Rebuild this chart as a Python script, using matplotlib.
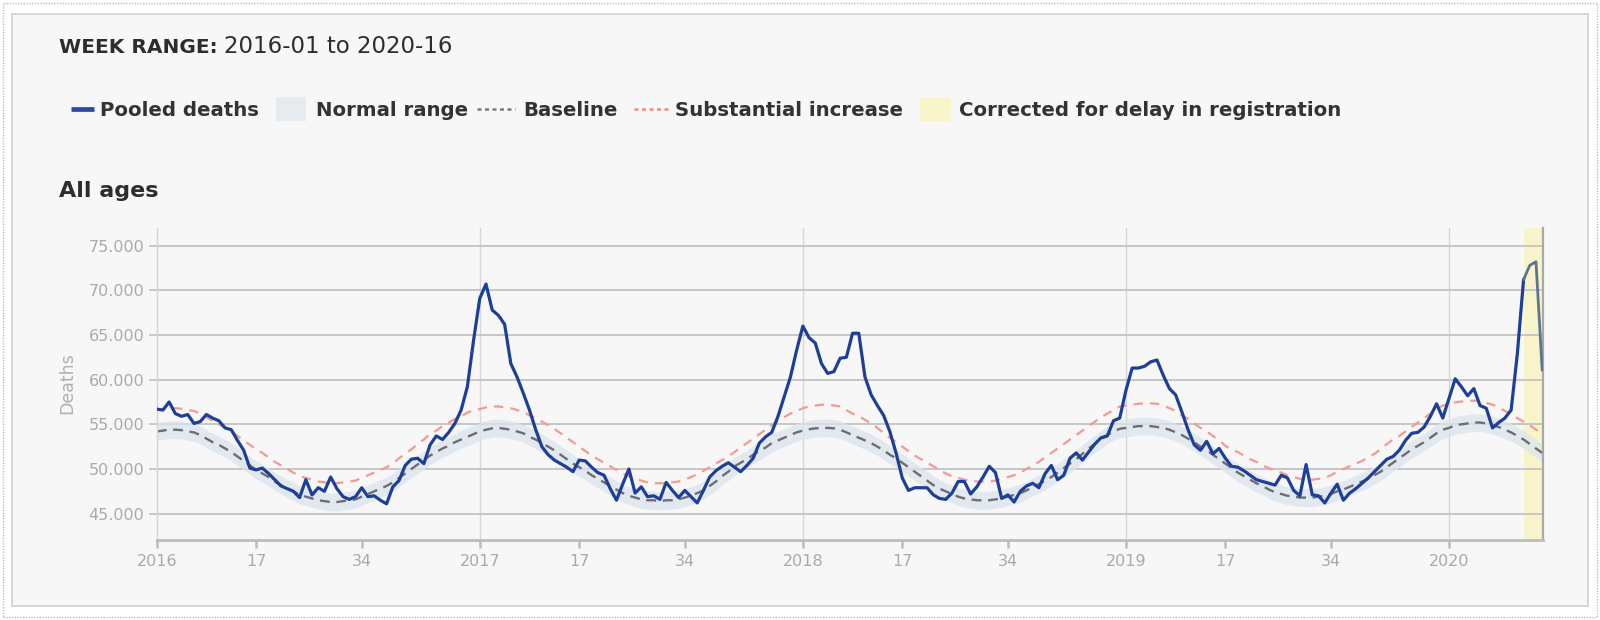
import matplotlib
matplotlib.use("Agg")
import matplotlib.pyplot as plt
from matplotlib.patches import Rectangle
from matplotlib.lines import Line2D
import numpy as np

plt.rcParams['font.family'] = ['DejaVu Sans']

# ---------------- data (thousands of deaths, weekly) ----------------
year_labels = ['2016', '2017', '2018', '2019', '2020']
weeks_per_year = [52, 52, 52, 52, 16]
tick_weeks = [1, 17, 34]
ytick_vals = [45, 50, 55, 60, 65, 70, 75]
ytick_labels = ['45.000', '50.000', '55.000', '60.000', '65.000', '70.000', '75.000']
corrected_first_index = 220  # 2020-13 onwards corrected for delay

deaths_2016 = [56.7, 56.6, 57.5, 56.2, 55.9, 56.1, 55.1, 55.3, 56.1, 55.7,
               55.4, 54.6, 54.4, 53.2, 52.1, 50.1, 49.9, 50.1, 49.5, 48.8,
               48.1, 47.8, 47.5, 46.8, 48.8, 47.1, 47.9, 47.5, 49.1, 47.8,
               46.9, 46.6, 46.9, 47.9, 46.9, 47.0, 46.5, 46.1, 48.0, 48.7,
               50.4, 51.1, 51.2, 50.6, 52.7, 53.7, 53.3, 54.1, 55.1, 56.6,
               59.2, 64.4]
deaths_2017 = [69.1, 70.7, 67.8, 67.2, 66.2, 61.8, 60.3, 58.5, 56.6, 54.4,
               52.5, 51.6, 51.0, 50.6, 50.2, 49.7, 51.0, 50.9, 50.2, 49.6,
               49.3, 47.8, 46.5, 48.3, 50.0, 47.3, 48.0, 46.9, 47.0, 46.6,
               48.5, 47.6, 46.8, 47.6, 46.9, 46.2, 47.6, 49.1, 49.8, 50.3,
               50.7, 50.2, 49.7, 50.4, 51.2, 52.9, 53.6, 54.1, 55.9, 58.1,
               60.3, 63.3]
deaths_2018 = [66.0, 64.7, 64.1, 61.8, 60.7, 60.9, 62.4, 62.5, 65.2, 65.2,
               60.3, 58.3, 57.1, 56.0, 54.2, 51.8, 49.0, 47.6, 47.9, 47.9,
               47.9, 47.1, 46.7, 46.6, 47.3, 48.6, 48.6, 47.2, 48.0, 49.1,
               50.3, 49.6, 46.7, 47.1, 46.3, 47.5, 48.1, 48.4, 47.9, 49.5,
               50.4, 48.8, 49.3, 51.2, 51.8, 51.0, 51.9, 52.8, 53.5, 53.7,
               55.4, 55.7]
deaths_2019 = [58.8, 61.3, 61.3, 61.5, 62.0, 62.2, 60.5, 59.0, 58.3, 56.4,
               54.4, 52.7, 52.1, 53.1, 51.7, 52.3, 51.2, 50.3, 50.2, 49.8,
               49.3, 48.8, 48.6, 48.4, 48.2, 49.3, 49.0, 47.6, 47.0, 50.5,
               47.1, 47.0, 46.2, 47.3, 48.3, 46.5, 47.3, 47.8, 48.4, 49.0,
               49.7, 50.4, 51.1, 51.4, 52.1, 53.2, 54.0, 54.1, 54.7, 55.9,
               57.3, 55.7]
deaths_2020 = [57.9, 60.1, 59.2, 58.2, 59.0, 57.1, 56.8, 54.6, 55.2, 55.7,
               56.6, 62.9, 71.2, 72.8, 73.2, 61.1]

baseline_2016 = [54.2, 54.3, 54.4, 54.4, 54.35, 54.2, 54.1, 53.8, 53.4, 53.0,
                 52.7, 52.3, 51.9, 51.4, 50.9, 50.4, 49.9, 49.5, 49.1, 48.6,
                 48.2, 47.8, 47.5, 47.1, 46.9, 46.7, 46.5, 46.4, 46.3, 46.3,
                 46.4, 46.5, 46.6, 46.9, 47.2, 47.5, 47.8, 48.1, 48.5, 49.0,
                 49.5, 50.0, 50.5, 51.0, 51.5, 51.9, 52.3, 52.6, 53.0, 53.3,
                 53.6, 53.9]
baseline_2017 = [54.2, 54.4, 54.55, 54.6, 54.5, 54.4, 54.2, 54.0, 53.6, 53.3,
                 52.9, 52.5, 52.1, 51.6, 51.1, 50.6, 50.2, 49.8, 49.3, 48.9,
                 48.5, 48.1, 47.7, 47.3, 47.0, 46.8, 46.6, 46.5, 46.5, 46.4,
                 46.5, 46.5, 46.6, 46.8, 47.0, 47.3, 47.6, 48.1, 48.6, 49.2,
                 49.7, 50.3, 50.7, 51.1, 51.6, 52.0, 52.4, 52.9, 53.2, 53.5,
                 53.8, 54.1]
baseline_2018 = [54.3, 54.45, 54.55, 54.6, 54.6, 54.55, 54.4, 54.1, 53.8, 53.5,
                 53.2, 52.9, 52.5, 52.1, 51.6, 51.2, 50.7, 50.2, 49.7, 49.2,
                 48.7, 48.2, 47.8, 47.5, 47.2, 46.9, 46.7, 46.6, 46.5, 46.5,
                 46.5, 46.6, 46.7, 46.9, 47.1, 47.3, 47.6, 48.0, 48.3, 48.7,
                 49.1, 49.6, 50.1, 50.6, 51.1, 51.7, 52.3, 52.8, 53.3, 53.8,
                 54.2, 54.5]
baseline_2019 = [54.6, 54.7, 54.8, 54.8, 54.8, 54.7, 54.6, 54.4, 54.1, 53.8,
                 53.4, 53.0, 52.5, 52.1, 51.6, 51.1, 50.6, 50.1, 49.6, 49.2,
                 48.8, 48.4, 48.1, 47.7, 47.4, 47.2, 47.0, 46.9, 46.8, 46.8,
                 46.8, 46.9, 47.0, 47.2, 47.5, 47.7, 48.0, 48.3, 48.6, 48.9,
                 49.3, 49.7, 50.2, 50.7, 51.2, 51.7, 52.2, 52.6, 53.0, 53.5,
                 54.0, 54.4]
baseline_2020 = [54.6, 54.9, 55.0, 55.1, 55.2, 55.2, 55.1, 54.9, 54.7, 54.4,
                 54.1, 53.7, 53.3, 52.8, 52.3, 51.8]

range_low_2016 = [53.2, 53.3, 53.4, 53.4, 53.35, 53.2, 53.1, 52.8, 52.4, 52.0,
                  51.7, 51.3, 50.9, 50.4, 49.9, 49.4, 48.9, 48.5, 48.1, 47.6,
                  47.2, 46.8, 46.5, 46.1, 45.9, 45.7, 45.5, 45.4, 45.3, 45.3,
                  45.4, 45.5, 45.6, 45.9, 46.2, 46.5, 46.8, 47.1, 47.5, 48.0,
                  48.5, 49.0, 49.5, 50.0, 50.5, 50.9, 51.3, 51.6, 52.0, 52.3,
                  52.6, 52.9]
range_low_2017 = [53.2, 53.4, 53.55, 53.6, 53.5, 53.4, 53.2, 53.0, 52.6, 52.3,
                  51.9, 51.5, 51.1, 50.6, 50.1, 49.6, 49.2, 48.8, 48.3, 47.9,
                  47.5, 47.1, 46.7, 46.3, 46.0, 45.8, 45.6, 45.5, 45.5, 45.4,
                  45.5, 45.5, 45.6, 45.8, 46.0, 46.3, 46.6, 47.1, 47.6, 48.2,
                  48.7, 49.3, 49.7, 50.1, 50.6, 51.0, 51.4, 51.9, 52.2, 52.5,
                  52.8, 53.1]
range_low_2018 = [53.3, 53.45, 53.55, 53.6, 53.6, 53.55, 53.4, 53.1, 52.8, 52.5,
                  52.2, 51.9, 51.5, 51.1, 50.6, 50.2, 49.7, 49.2, 48.7, 48.2,
                  47.7, 47.2, 46.8, 46.5, 46.2, 45.9, 45.7, 45.6, 45.5, 45.5,
                  45.5, 45.6, 45.7, 45.9, 46.1, 46.3, 46.6, 47.0, 47.3, 47.7,
                  48.1, 48.6, 49.1, 49.6, 50.1, 50.7, 51.3, 51.8, 52.3, 52.8,
                  53.2, 53.5]
range_low_2019 = [53.6, 53.7, 53.8, 53.8, 53.8, 53.7, 53.6, 53.4, 53.1, 52.8,
                  52.4, 52.0, 51.5, 51.1, 50.6, 50.1, 49.6, 49.1, 48.6, 48.2,
                  47.8, 47.4, 47.1, 46.7, 46.4, 46.2, 46.0, 45.9, 45.8, 45.8,
                  45.8, 45.9, 46.0, 46.2, 46.5, 46.7, 47.0, 47.3, 47.6, 47.9,
                  48.3, 48.7, 49.2, 49.7, 50.2, 50.7, 51.2, 51.6, 52.0, 52.5,
                  53.0, 53.4]
range_low_2020 = [53.6, 53.9, 54.0, 54.1, 54.2, 54.2, 54.1, 53.9, 53.7, 53.4,
                  53.1, 52.7, 52.3, 51.8, 51.3, 50.8]

range_high_2016 = [55.2, 55.3, 55.4, 55.4, 55.35, 55.2, 55.1, 54.8, 54.4, 54.0,
                   53.7, 53.3, 52.9, 52.4, 51.9, 51.4, 50.9, 50.5, 50.1, 49.6,
                   49.2, 48.8, 48.5, 48.1, 47.9, 47.7, 47.5, 47.4, 47.3, 47.3,
                   47.4, 47.5, 47.6, 47.9, 48.2, 48.5, 48.8, 49.1, 49.5, 50.0,
                   50.5, 51.0, 51.5, 52.0, 52.5, 52.9, 53.3, 53.6, 54.0, 54.3,
                   54.6, 54.9]
range_high_2017 = [55.2, 55.4, 55.55, 55.6, 55.5, 55.4, 55.2, 55.0, 54.6, 54.3,
                   53.9, 53.5, 53.1, 52.6, 52.1, 51.6, 51.2, 50.8, 50.3, 49.9,
                   49.5, 49.1, 48.7, 48.3, 48.0, 47.8, 47.6, 47.5, 47.5, 47.4,
                   47.5, 47.5, 47.6, 47.8, 48.0, 48.3, 48.6, 49.1, 49.6, 50.2,
                   50.7, 51.3, 51.7, 52.1, 52.6, 53.0, 53.4, 53.9, 54.2, 54.5,
                   54.8, 55.1]
range_high_2018 = [55.3, 55.45, 55.55, 55.6, 55.6, 55.55, 55.4, 55.1, 54.8, 54.5,
                   54.2, 53.9, 53.5, 53.1, 52.6, 52.2, 51.7, 51.2, 50.7, 50.2,
                   49.7, 49.2, 48.8, 48.5, 48.2, 47.9, 47.7, 47.6, 47.5, 47.5,
                   47.5, 47.6, 47.7, 47.9, 48.1, 48.3, 48.6, 49.0, 49.3, 49.7,
                   50.1, 50.6, 51.1, 51.6, 52.1, 52.7, 53.3, 53.8, 54.3, 54.8,
                   55.2, 55.5]
range_high_2019 = [55.6, 55.7, 55.8, 55.8, 55.8, 55.7, 55.6, 55.4, 55.1, 54.8,
                   54.4, 54.0, 53.5, 53.1, 52.6, 52.1, 51.6, 51.1, 50.6, 50.2,
                   49.8, 49.4, 49.1, 48.7, 48.4, 48.2, 48.0, 47.9, 47.8, 47.8,
                   47.8, 47.9, 48.0, 48.2, 48.5, 48.7, 49.0, 49.3, 49.6, 49.9,
                   50.3, 50.7, 51.2, 51.7, 52.2, 52.7, 53.2, 53.6, 54.0, 54.5,
                   55.0, 55.4]
range_high_2020 = [55.6, 55.9, 56.0, 56.1, 56.2, 56.2, 56.1, 55.9, 55.7, 55.4,
                   55.1, 54.7, 54.3, 53.8, 53.3, 52.8]

substantial_2016 = [56.6, 56.7, 56.8, 56.8, 56.75, 56.6, 56.5, 56.2, 55.8, 55.4,
                    55.0, 54.6, 54.2, 53.7, 53.2, 52.7, 52.2, 51.8, 51.3, 50.8,
                    50.4, 50.0, 49.6, 49.2, 49.0, 48.8, 48.6, 48.5, 48.4, 48.4,
                    48.5, 48.6, 48.7, 49.0, 49.3, 49.6, 49.9, 50.2, 50.6, 51.2,
                    51.7, 52.2, 52.8, 53.3, 53.9, 54.3, 54.8, 55.2, 55.6, 55.9,
                    56.3, 56.6]
substantial_2017 = [56.7, 56.9, 57.0, 57.0, 56.9, 56.8, 56.6, 56.4, 56.0, 55.7,
                    55.3, 54.9, 54.5, 54.0, 53.5, 53.0, 52.5, 52.0, 51.5, 51.1,
                    50.7, 50.3, 49.9, 49.5, 49.2, 48.9, 48.7, 48.5, 48.4, 48.4,
                    48.4, 48.5, 48.6, 48.8, 49.1, 49.4, 49.8, 50.2, 50.6, 51.0,
                    51.4, 51.9, 52.4, 52.9, 53.4, 53.9, 54.4, 54.9, 55.4, 55.8,
                    56.2, 56.5]
substantial_2018 = [56.8, 57.0, 57.1, 57.2, 57.2, 57.1, 57.0, 56.6, 56.2, 55.9,
                    55.5, 55.1, 54.6, 54.0, 53.5, 53.0, 52.5, 52.0, 51.5, 51.1,
                    50.7, 50.3, 49.9, 49.5, 49.2, 49.0, 48.8, 48.7, 48.6, 48.6,
                    48.6, 48.7, 48.9, 49.1, 49.3, 49.6, 50.0, 50.4, 50.8, 51.3,
                    51.8, 52.3, 52.8, 53.3, 53.8, 54.3, 54.8, 55.3, 55.8, 56.2,
                    56.6, 57.0]
substantial_2019 = [57.1, 57.2, 57.3, 57.35, 57.35, 57.3, 57.1, 56.8, 56.5, 56.0,
                    55.6, 55.1, 54.6, 54.2, 53.7, 53.2, 52.6, 52.2, 51.9, 51.5,
                    51.1, 50.8, 50.4, 50.1, 49.8, 49.6, 49.3, 49.1, 48.9, 48.8,
                    48.8, 48.9, 49.0, 49.3, 49.7, 50.0, 50.3, 50.6, 50.9, 51.3,
                    51.7, 52.2, 52.8, 53.3, 53.7, 54.2, 54.7, 55.2, 55.7, 56.2,
                    56.7, 57.1]
substantial_2020 = [57.3, 57.45, 57.55, 57.6, 57.65, 57.6, 57.4, 57.2, 56.9, 56.5,
                    56.1, 55.7, 55.3, 54.9, 54.4, 54.0]

deaths = deaths_2016 + deaths_2017 + deaths_2018 + deaths_2019 + deaths_2020
baseline = baseline_2016 + baseline_2017 + baseline_2018 + baseline_2019 + baseline_2020
range_low = range_low_2016 + range_low_2017 + range_low_2018 + range_low_2019 + range_low_2020
range_high = range_high_2016 + range_high_2017 + range_high_2018 + range_high_2019 + range_high_2020
substantial = (substantial_2016 + substantial_2017 + substantial_2018
               + substantial_2019 + substantial_2020)

x = np.arange(len(deaths))
year_starts = np.cumsum([0] + weeks_per_year[:-1])
xtick_pos, xtick_lab = [], []
for ys, yl, nw in zip(year_starts, year_labels, weeks_per_year):
    for wk in tick_weeks:
        if wk <= nw:
            xtick_pos.append(ys + wk - 1)
            xtick_lab.append(yl if wk == 1 else str(wk))

# ---------------- figure ----------------
W, H = 1600, 620
fig = plt.figure(figsize=(W / 100, H / 100), dpi=100)
fig.patch.set_facecolor('white')


def fx(px):
    return px / W


def fy(py):
    return 1 - py / H


outer = Rectangle((fx(3), fy(617)), 1594 / W, 614 / H, transform=fig.transFigure,
                  fill=False, edgecolor='#bdbdbd', lw=1.0, ls=(0, (1, 1)), zorder=-3)
card = Rectangle((fx(12), fy(606)), 1576 / W, 592 / H, transform=fig.transFigure,
                 facecolor='#f7f7f7', edgecolor='#cfcfcf', lw=1.2, zorder=-2)
fig.add_artist(outer)
fig.add_artist(card)

ax_l, ax_r, ax_t, ax_b = 156.7, 1542.5, 228, 540
ax = fig.add_axes([fx(ax_l), fy(ax_b), (ax_r - ax_l) / W, (ax_b - ax_t) / H])
ax.set_facecolor('none')
xmax = (ax_r - ax_l) / 6.213
ax.set_xlim(0, xmax)
ax.set_ylim(42.05, 76.98)

ax.axvspan(corrected_first_index, xmax, color='#f6f4c8', lw=0, zorder=0.2)
ax.set_yticks(ytick_vals)
ax.set_yticklabels(ytick_labels)
ax.grid(axis='y', color='#c6c6c6', lw=1.4)
ax.set_axisbelow(True)
for ys in year_starts[1:]:
    ax.axvline(ys, color='#d7d7d7', lw=1.0, zorder=0.3)

ax.fill_between(x, range_low, range_high, color='#dce4ed', alpha=0.75, lw=0, zorder=1)
ax.plot(x, baseline, color='#6e6e6e', lw=1.7, ls=(0, (4.2, 2.8)), zorder=2)
ax.plot(x, substantial, color='#f29a94', lw=1.6, ls=(0, (4.2, 3.2)), zorder=2)
ci = corrected_first_index
ax.plot(x[:ci + 1], deaths[:ci + 1], color='#1d3f97', lw=2.3, zorder=3)
ax.plot(x[ci:], deaths[ci:], color='#5d7391', lw=2.0, zorder=3)

ax.spines['top'].set_visible(False)
ax.spines['left'].set_color('#d5d5d5')
ax.spines['left'].set_linewidth(1.0)
ax.spines['right'].set_color('#a8a8a8')
ax.spines['right'].set_linewidth(1.6)
ax.spines['bottom'].set_color('#bcbcbc')
ax.spines['bottom'].set_linewidth(2.0)

ax.set_xticks(xtick_pos)
ax.set_xticklabels(xtick_lab)
ax.tick_params(axis='x', direction='out', length=5.5, width=1.8, color='#bcbcbc',
               labelcolor='#aaaaaa', labelsize=11.5, pad=4.5)
ax.tick_params(axis='y', direction='out', length=6, width=1.3, color='#c6c6c6',
               labelcolor='#aaaaaa', labelsize=11.5, pad=3)

# ---------------- texts ----------------
renderer = fig.canvas.get_renderer()
t1 = fig.text(fx(59), fy(53), 'WEEK RANGE:', fontsize=14.5, fontweight='bold',
              color='#2d2d2d', va='baseline', ha='left')
bb = t1.get_window_extent(renderer)
fig.text((bb.x1 + 6) / W, fy(53), '2016-01 to 2020-16', fontsize=16.5,
         color='#2d2d2d', va='baseline', ha='left')

lb = fy(116)
lc = fy(109)
lfs = 14.2
fig.add_artist(Line2D([fx(71), fx(94)], [lc, lc], transform=fig.transFigure,
                      color='#2a4a9e', lw=3.4, solid_capstyle='butt'))
fig.text(fx(100), lb, 'Pooled deaths', fontsize=lfs, fontweight='bold', color='#333333', va='baseline')
fig.add_artist(Rectangle((fx(276), fy(121)), 30 / W, 24 / H, transform=fig.transFigure,
                         facecolor='#e6ebf0', edgecolor='none'))
fig.text(fx(316), lb, 'Normal range', fontsize=lfs, fontweight='bold', color='#333333', va='baseline')
fig.add_artist(Line2D([fx(477), fx(515)], [lc, lc], transform=fig.transFigure,
                      color='#7a7a7a', lw=1.8, ls=(0, (1.6, 1.4))))
fig.text(fx(523), lb, 'Baseline', fontsize=lfs, fontweight='bold', color='#333333', va='baseline')
fig.add_artist(Line2D([fx(634), fx(668)], [lc, lc], transform=fig.transFigure,
                      color='#f08a85', lw=1.8, ls=(0, (1.6, 1.4))))
fig.text(fx(675), lb, 'Substantial increase', fontsize=lfs, fontweight='bold', color='#333333', va='baseline')
fig.add_artist(Rectangle((fx(920), fy(121)), 31 / W, 24 / H, transform=fig.transFigure,
                         facecolor='#f7f5c9', edgecolor='none'))
fig.text(fx(959), lb, 'Corrected for delay in registration', fontsize=lfs, fontweight='bold',
         color='#333333', va='baseline')

fig.text(fx(59), fy(197), 'All ages', fontsize=16, fontweight='bold', color='#2d2d2d', va='baseline')
fig.text(fx(67.5), fy(383), 'Deaths', rotation=90, fontsize=12.5, color='#b0b0b0',
         ha='center', va='center')

fig.savefig('out.png', dpi=100, facecolor=fig.get_facecolor())
